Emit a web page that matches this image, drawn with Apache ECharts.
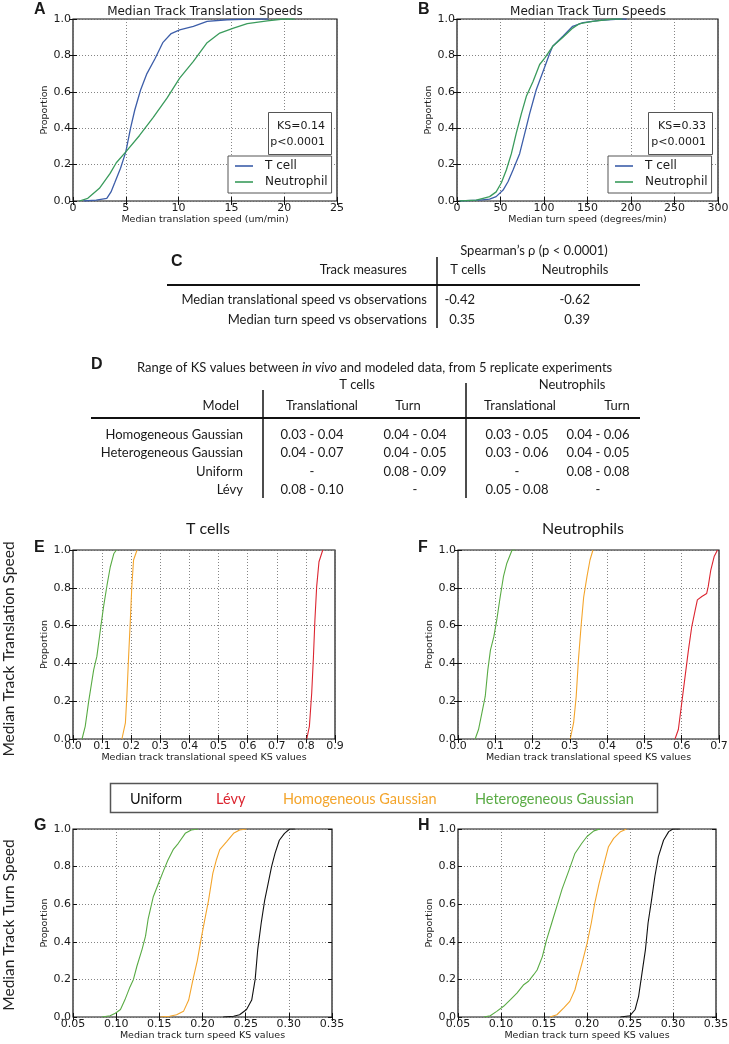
<!DOCTYPE html>
<html><head><meta charset="utf-8">
<script src="https://cdn.jsdelivr.net/npm/echarts/dist/echarts.min.js"></script>
<style>html,body{margin:0;padding:0;background:#fff}#c{width:729px;height:1044px}</style>
</head><body><div id="c"></div>
<script>
// ---------- DATA ----------
const aTcell = [[1.0,0],[2.2,0.005],[3.2,0.015],[3.6,0.05],[3.95,0.1],[4.5,0.18],[5.0,0.27],[5.45,0.40],[5.85,0.50],[6.4,0.61],[7.0,0.70],[7.75,0.78],[8.5,0.87],[9.3,0.92],[10.1,0.94],[11.4,0.96],[12.7,0.987],[14.6,0.996],[16.8,1.0],[18.5,1.0]];
const aNeutro = [[0.6,0],[1.4,0.015],[2.5,0.07],[3.5,0.15],[4.1,0.21],[5.0,0.27],[6.3,0.36],[7.6,0.46],[8.9,0.565],[10.1,0.675],[11.4,0.767],[12.7,0.87],[13.9,0.923],[15.2,0.95],[16.5,0.975],[18.4,0.99],[19.9,1.0],[21,1.0]];
const bTcell = [[3,0],[26,0.005],[37.5,0.01],[45,0.024],[53,0.06],[58.6,0.106],[64.4,0.17],[72,0.26],[77.8,0.37],[83.5,0.48],[91,0.61],[98.8,0.71],[106.5,0.81],[110,0.85],[121.8,0.905],[133,0.96],[145,0.98],[164,0.993],[187,1.0],[195,1.0]];
const bNeutro = [[3,0],[22,0.005],[30,0.015],[37.5,0.024],[45,0.05],[51,0.1],[56.7,0.17],[62.5,0.26],[68,0.37],[74,0.48],[79.7,0.575],[87.4,0.657],[95,0.75],[100.8,0.785],[110,0.85],[121.8,0.9],[133,0.95],[141,0.975],[156,0.987],[179,1.0],[190,1.0]];

const eHetero = [[0.031,0],[0.042,0.067],[0.054,0.2],[0.071,0.366],[0.082,0.437],[0.094,0.577],[0.105,0.70],[0.117,0.815],[0.128,0.91],[0.14,0.98],[0.149,1.0]];
const eHomo = [[0.168,0],[0.18,0.085],[0.185,0.225],[0.191,0.437],[0.197,0.63],[0.202,0.806],[0.208,0.947],[0.22,1.0]];
const eLevy = [[0.803,0],[0.812,0.067],[0.82,0.243],[0.826,0.437],[0.831,0.63],[0.837,0.806],[0.845,0.938],[0.858,1.0]];

const fHetero = [[0.046,0],[0.055,0.05],[0.064,0.137],[0.073,0.225],[0.08,0.366],[0.087,0.47],[0.096,0.54],[0.104,0.63],[0.113,0.75],[0.122,0.86],[0.131,0.93],[0.145,1.0],[0.154,1.0]];
const fHomo = [[0.301,0],[0.31,0.085],[0.317,0.225],[0.323,0.42],[0.33,0.595],[0.337,0.75],[0.346,0.86],[0.354,0.947],[0.362,1.0]];
const fLevy = [[0.582,0],[0.591,0.05],[0.6,0.19],[0.609,0.33],[0.618,0.47],[0.627,0.595],[0.636,0.68],[0.642,0.736],[0.654,0.754],[0.667,0.77],[0.671,0.806],[0.678,0.894],[0.687,0.965],[0.696,1.0]];

const gHetero = [[0.0835,0],[0.093,0.007],[0.099,0.02],[0.105,0.04],[0.110,0.09],[0.116,0.16],[0.12,0.2],[0.124,0.27],[0.13,0.36],[0.134,0.43],[0.137,0.52],[0.143,0.64],[0.149,0.71],[0.155,0.78],[0.16,0.835],[0.166,0.89],[0.172,0.924],[0.18,0.977],[0.187,0.995],[0.195,1.0]];
const gHomo = [[0.151,0],[0.162,0.004],[0.17,0.012],[0.178,0.03],[0.184,0.09],[0.189,0.2],[0.194,0.3],[0.199,0.43],[0.204,0.55],[0.207,0.62],[0.212,0.765],[0.216,0.835],[0.22,0.89],[0.228,0.933],[0.236,0.977],[0.243,0.995],[0.251,1.0]];
const gUniform = [[0.224,0],[0.236,0.004],[0.243,0.012],[0.251,0.04],[0.257,0.09],[0.261,0.2],[0.264,0.36],[0.268,0.5],[0.272,0.62],[0.276,0.71],[0.28,0.8],[0.284,0.87],[0.289,0.94],[0.295,0.977],[0.301,1.0],[0.307,1.0]];

const hHetero = [[0.08,0],[0.0875,0.007],[0.095,0.03],[0.103,0.057],[0.111,0.092],[0.1185,0.127],[0.126,0.17],[0.132,0.19],[0.138,0.225],[0.142,0.25],[0.148,0.32],[0.153,0.41],[0.159,0.5],[0.165,0.59],[0.171,0.68],[0.179,0.78],[0.186,0.87],[0.194,0.924],[0.2,0.96],[0.208,0.99],[0.215,1.0]];
const hHomo = [[0.157,0],[0.165,0.012],[0.173,0.048],[0.18,0.083],[0.186,0.145],[0.19,0.216],[0.195,0.3],[0.2,0.39],[0.205,0.5],[0.209,0.605],[0.214,0.71],[0.219,0.8],[0.225,0.906],[0.231,0.95],[0.239,0.986],[0.246,1.0]];
const hUniform = [[0.239,0],[0.25,0.007],[0.256,0.04],[0.26,0.11],[0.264,0.235],[0.268,0.36],[0.271,0.5],[0.275,0.62],[0.279,0.75],[0.283,0.853],[0.289,0.94],[0.295,0.986],[0.3,1.0],[0.308,1.0]];

const ksA = ['KS=0.14', 'p<0.0001'];
const ksB = ['KS=0.33', 'p<0.0001'];

const tableCRows = ['Median translational speed vs observations', 'Median turn speed vs observations'];
const tableCTcells = ['-0.42', '0.35'];
const tableCNeutro = ['-0.62', '0.39'];

const tableDModels = ['Homogeneous Gaussian', 'Heterogeneous Gaussian', 'Uniform', 'Lévy'];
const tableDTTrans = ['0.03 - 0.04', '0.04 - 0.07', '-', '0.08 - 0.10'];
const tableDTTurn = ['0.04 - 0.04', '0.04 - 0.05', '0.08 - 0.09', '-'];
const tableDNTrans = ['0.03 - 0.05', '0.03 - 0.06', '-', '0.05 - 0.08'];
const tableDNTurn = ['0.04 - 0.06', '0.04 - 0.05', '0.08 - 0.08', '-'];

const modelNames = ['Uniform', 'Lévy', 'Homogeneous Gaussian', 'Heterogeneous Gaussian'];

// ---------- STYLE ----------
const PF = 'DejaVu Sans';
const TF = 'Lato';
const TXT = '#1a1a1a';
const C_BLUE = '#3d5ea9', C_GREEN = '#3a9b5c';
const C_UNI = '#111111', C_LEVY = '#dc2530', C_HOMO = '#f4a52c', C_HET = '#59ab44';

const grids = [
  [73, 19, 264, 182],
  [457, 19, 261, 182],
  [73, 550, 262, 189],
  [458, 550, 261, 189],
  [73, 829, 259, 188],
  [458, 829, 258, 188]
];
const xSpecs = [
  [0, 25, 5, 0, 'Median translation speed (um/min)'],
  [0, 300, 50, 0, 'Median turn speed (degrees/min)'],
  [0, 0.9, 0.1, 1, 'Median track translational speed KS values'],
  [0, 0.7, 0.1, 1, 'Median track translational speed KS values'],
  [0.05, 0.35, 0.05, 2, 'Median track turn speed KS values'],
  [0.05, 0.35, 0.05, 2, 'Median track turn speed KS values']
];

const gridOpt = grids.map(g => ({left:g[0], top:g[1], width:g[2], height:g[3], show:true,
  borderColor:'#111', borderWidth:1.2, backgroundColor:'#fff', containLabel:false, outerBoundsMode:'none'}));

const tick = {show:true, inside:true, length:4, lineStyle:{color:'#111', width:1}};
const split = {show:true, lineStyle:{color:'#666', type:[1,2], width:0.8}};

const xAxes = [], yAxes = [];
xSpecs.forEach((s, i) => {
  xAxes.push({type:'value', gridIndex:i, min:s[0], max:s[1], interval:s[2], name:s[4],
    nameLocation:'middle', nameGap:14, nameTextStyle:{fontFamily:PF, fontSize:9.5, color:TXT},
    axisLine:{show:false}, axisTick:tick, splitLine:split,
    axisLabel:{margin:2, fontFamily:PF, fontSize:11, color:TXT, showMinLabel:true, showMaxLabel:true,
      formatter: v => v.toFixed(s[3])}});
  yAxes.push({type:'value', gridIndex:i, min:0, max:1, interval:0.2, name:'Proportion',
    nameLocation:'middle', nameGap:17, nameTextStyle:{fontFamily:PF, fontSize:9.5, color:TXT},
    axisLine:{show:false}, axisTick:tick, splitLine:split,
    axisLabel:{margin:2, fontFamily:PF, fontSize:11, color:TXT, showMinLabel:true, showMaxLabel:true,
      formatter: v => v.toFixed(1)}});
});
xSpecs.forEach((s, i) => {
  xAxes.push({type:'value', gridIndex:i, position:'top', min:s[0], max:s[1], interval:s[2],
    axisLine:{show:false}, axisTick:tick, axisLabel:{show:false}, splitLine:{show:false}});
  yAxes.push({type:'value', gridIndex:i, position:'right', min:0, max:1, interval:0.2,
    axisLine:{show:false}, axisTick:tick, axisLabel:{show:false}, splitLine:{show:false}});
});

function ln(name, data, gi, color, w) {
  return {type:'line', name:name, data:data, xAxisIndex:gi, yAxisIndex:gi, showSymbol:false, symbol:'none',
    lineStyle:{color:color, width:w}, itemStyle:{color:color}, silent:true, animation:false, z:3};
}
const series = [
  ln('T cell', aTcell, 0, C_BLUE, 1.3), ln('Neutrophil', aNeutro, 0, C_GREEN, 1.3),
  ln('T cell', bTcell, 1, C_BLUE, 1.3), ln('Neutrophil', bNeutro, 1, C_GREEN, 1.3),
  ln(modelNames[3], eHetero, 2, C_HET, 1.1), ln(modelNames[2], eHomo, 2, C_HOMO, 1.1), ln(modelNames[1], eLevy, 2, C_LEVY, 1.1),
  ln(modelNames[3], fHetero, 3, C_HET, 1.1), ln(modelNames[2], fHomo, 3, C_HOMO, 1.1), ln(modelNames[1], fLevy, 3, C_LEVY, 1.1),
  ln(modelNames[3], gHetero, 4, C_HET, 1.1), ln(modelNames[2], gHomo, 4, C_HOMO, 1.1), ln(modelNames[0], gUniform, 4, C_UNI, 1.1),
  ln(modelNames[3], hHetero, 5, C_HET, 1.1), ln(modelNames[2], hHomo, 5, C_HOMO, 1.1), ln(modelNames[0], hUniform, 5, C_UNI, 1.1)
];

function legendAt(left) {
  return {data:['T cell', 'Neutrophil'], orient:'vertical', left:left, top:156, icon:'rect',
    itemWidth:18, itemHeight:1.6, itemGap:4, padding:[4, 4, 5, 7],
    borderColor:'#555', borderWidth:1, backgroundColor:'#fff', selectedMode:false,
    textStyle:{fontFamily:PF, fontSize:12, color:TXT, padding:[0, 0, 0, 7]}, z:10};
}

// ---------- GRAPHICS ----------
const G = [];
function txt(x, y, text, font, align, color, extra) {
  const o = {type:'text', x:x, y:y, z:20, silent:true,
    style:{text:text, font:font, fill:color || TXT, align:align || 'left', textAlign:align || 'left',
      verticalAlign:'middle', textVerticalAlign:'middle'}};
  if (extra) Object.assign(o, extra);
  G.push(o);
}
function line(x1, y1, x2, y2, w, color) {
  G.push({type:'line', z:20, silent:true, shape:{x1:x1, y1:y1, x2:x2, y2:y2}, style:{stroke:color || '#111', lineWidth:w}});
}
function rect(x, y, w, h, color, lw) {
  G.push({type:'rect', z:15, silent:true, shape:{x:x, y:y, width:w, height:h}, style:{fill:'#fff', stroke:color, lineWidth:lw}});
}
const LF = 'bold 16px "Liberation Sans", Arial, sans-serif';
const pf = s => s + 'px "' + PF + '"';
const tf = s => s + 'px "' + TF + '", "Open Sans", sans-serif';

// panel letters
txt(34, 10, 'A', LF); txt(418, 10, 'B', LF);
txt(171, 262, 'C', LF); txt(91, 365, 'D', LF);
txt(34, 548, 'E', LF); txt(418, 548, 'F', LF);
txt(34, 826, 'G', LF); txt(418, 826, 'H', LF);

// plot titles
txt(205, 12, 'Median Track Translation Speeds', pf(12), 'center');
txt(588, 12, 'Median Track Turn Speeds', pf(12), 'center');

// KS boxes
rect(268.5, 112.5, 63, 42, '#555', 1);
txt(325, 126, ksA[0], pf(11), 'right'); txt(325, 142, ksA[1], pf(11), 'right');
rect(648.5, 112.5, 64, 42, '#555', 1);
txt(706, 126, ksB[0], pf(11), 'right'); txt(706, 142, ksB[1], pf(11), 'right');

// Table C
txt(534, 251, 'Spearman\u2019s \u03c1 (p < 0.0001)', tf(13), 'center');
txt(407, 270, 'Track measures', tf(13), 'right');
txt(468, 270, 'T cells', tf(13), 'center');
txt(575, 270, 'Neutrophils', tf(13), 'center');
line(167, 285, 640, 285, 1.8);
line(437, 257, 437, 328, 1.5);
tableCRows.forEach((r, i) => {
  const y = 300 + i * 20;
  txt(427, y, r, tf(13), 'right');
  txt(475, y, tableCTcells[i], tf(13), 'right');
  txt(590, y, tableCNeutro[i], tf(13), 'right');
});

// Table D
G.push({type:'text', x:137, y:368, z:20, silent:true, style:{
  text:'{n|Range of KS values between }{i|in vivo}{n| and modeled data, from 5 replicate experiments}',
  rich:{n:{fontFamily:TF, fontSize:13, fill:TXT}, i:{fontFamily:TF, fontSize:13, fontStyle:'italic', fill:TXT}},
  verticalAlign:'middle', textVerticalAlign:'middle'}});
txt(357, 385, 'T cells', tf(13), 'center');
txt(572, 385, 'Neutrophils', tf(13), 'center');
txt(239, 406, 'Model', tf(13), 'right');
txt(322, 406, 'Translational', tf(13), 'center');
txt(408, 406, 'Turn', tf(13), 'center');
txt(520, 406, 'Translational', tf(13), 'center');
txt(617, 406, 'Turn', tf(13), 'center');
line(91, 418, 640, 418, 1.8);
line(263, 390, 263, 498, 1.5);
line(466, 383, 466, 498, 1.5);
const dRowY = [435, 453, 472, 490];
tableDModels.forEach((m, i) => {
  const y = dRowY[i];
  txt(243, y, m, tf(13), 'right');
  txt(312, y, tableDTTrans[i], tf(13), 'center');
  txt(415, y, tableDTTurn[i], tf(13), 'center');
  txt(517, y, tableDNTrans[i], tf(13), 'center');
  txt(598, y, tableDNTurn[i], tf(13), 'center');
});

// column titles & row labels
txt(208, 529, 'T cells', tf(16), 'center');
txt(583, 529, 'Neutrophils', tf(16), 'center');
txt(9, 649, 'Median Track Translation Speed', tf(15.5), 'center', '#222', {rotation:Math.PI / 2});
txt(9, 925, 'Median Track Turn Speed', tf(15.5), 'center', '#222', {rotation:Math.PI / 2});

// model legend box
rect(110.5, 783.5, 547, 29, '#555', 1.5);
const modelColors = [C_UNI, C_LEVY, C_HOMO, C_HET];
const modelX = [130, 216, 283, 475];
modelNames.forEach((n, i) => txt(modelX[i], 799, n, tf(14.5), 'left', modelColors[i]));

const chart = echarts.init(document.getElementById('c'), null, {renderer:'canvas'});
chart.setOption({
  animation:false,
  backgroundColor:'#fff',
  grid:gridOpt,
  xAxis:xAxes,
  yAxis:yAxes,
  legend:[legendAt(228), legendAt(608)],
  series:series,
  graphic:G
});
</script></body></html>
